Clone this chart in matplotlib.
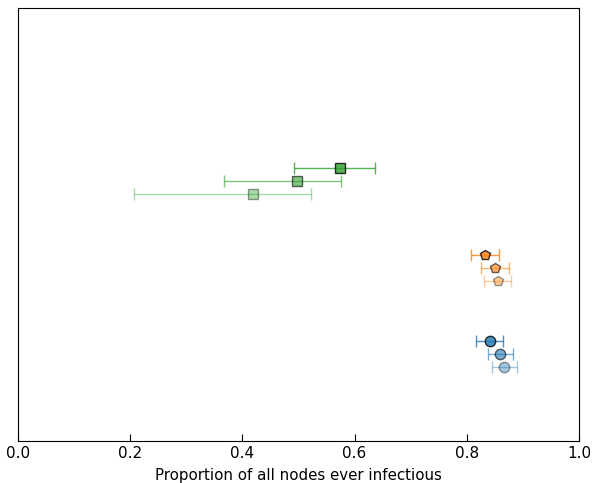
import matplotlib
matplotlib.use('Agg')
import matplotlib.pyplot as plt
import numpy as np

### values
groups = ['blue', 'orange', 'green']
colors = ['#1f77b4', '#ff7f0e', '#2ca02c']
markers = ['o', 'p', 's']
# three runs per group (top row first)
means = [[0.842, 0.860, 0.867],
         [0.833, 0.851, 0.855],
         [0.574, 0.497, 0.418]]
lows = [[0.817, 0.837, 0.844],
        [0.807, 0.825, 0.830],
        [0.492, 0.367, 0.206]]
highs = [[0.865, 0.882, 0.890],
         [0.858, 0.875, 0.878],
         [0.636, 0.575, 0.522]]
offsets = [0.15, 0.0, -0.15]
alphas = [0.8, 0.6, 0.4]

fig = plt.figure(figsize=(5.94, 4.83), dpi=100)
ax = fig.add_axes([0.0303, 0.087, 0.9445, 0.896])

for g in range(len(groups)):
    for k in range(3):
        m = means[g][k]
        err = [[m - lows[g][k]], [highs[g][k] - m]]
        ax.errorbar([m], [g + 1 + offsets[k]], xerr=err, fmt=markers[g],
                    color=colors[g], mec='k', ms=7.5, capsize=4,
                    alpha=alphas[k], elinewidth=1)

ax.set_xlim(0, 1)
ax.set_ylim(0, 5)
ax.set_yticks([])
ax.tick_params(axis='x', direction='in', top=False, labelsize=11, length=5)
ax.set_xlabel('Proportion of all nodes ever infectious', fontsize=10.8, labelpad=5)

fig.savefig('out.png', dpi=100)
